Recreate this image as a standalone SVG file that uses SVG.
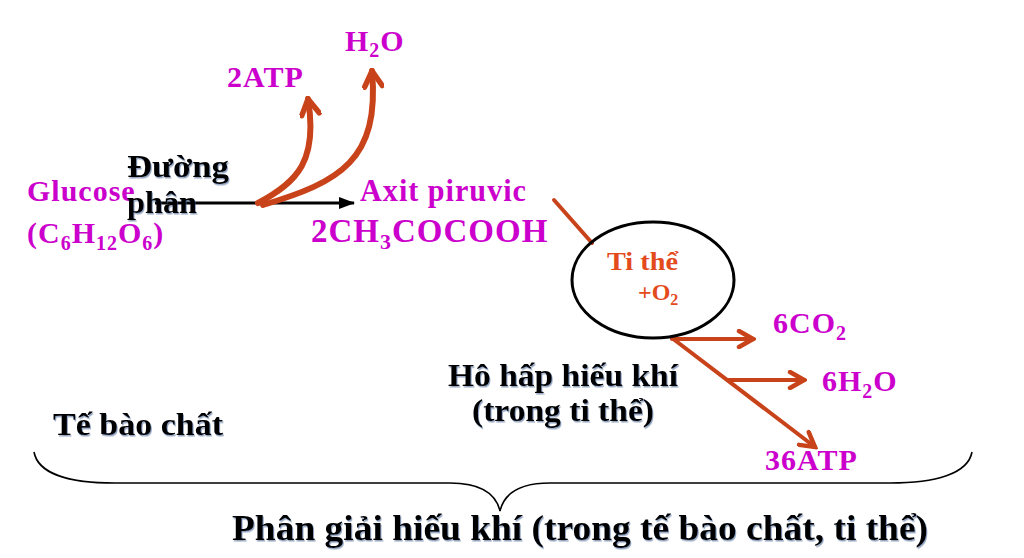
<svg xmlns="http://www.w3.org/2000/svg" width="1024" height="558" viewBox="0 0 1024 558">
<style>
  text { font-family: "Liberation Serif", "Times New Roman", "DejaVu Serif", serif; font-weight: bold; }
  .mag { fill: #CC00CC; font-size: 30px; letter-spacing: 1px; }
  .blk { fill: #000000; font-size: 30px; filter: url(#shadow); }
  .org { fill: #E34A1C; font-size: 24px; }
  .red { stroke: #C8421A; fill: none; stroke-linecap: round; }
</style>
<defs>
  <filter id="shadow" x="-10%" y="-20%" width="120%" height="150%">
    <feDropShadow dx="1" dy="1.5" stdDeviation="0.6" flood-color="#3a5a8a" flood-opacity="0.55"/>
  </filter>
  <marker id="chev" viewBox="0 0 20 20" markerWidth="20" markerHeight="20" markerUnits="userSpaceOnUse" refX="17" refY="10" orient="auto">
    <path d="M3,2 L17,10 L3,18" fill="none" stroke="#C8421A" stroke-width="4.5" stroke-linecap="round"/>
  </marker>
  <marker id="chevBig" viewBox="0 0 20 20" markerWidth="22" markerHeight="22" markerUnits="userSpaceOnUse" refX="17" refY="10" orient="auto">
    <path d="M3,2 L17,10 L3,18" fill="none" stroke="#C8421A" stroke-width="5" stroke-linecap="round"/>
  </marker>
  <marker id="tri" viewBox="0 0 16 12" markerWidth="16" markerHeight="12" markerUnits="userSpaceOnUse" refX="15" refY="6" orient="auto">
    <path d="M0,0 L16,6 L0,12 Z" fill="#000000"/>
  </marker>
</defs>
<rect width="1024" height="558" fill="#FFFFFF"/>

<g id="connectors">
  <line x1="155" y1="203" x2="354" y2="203" stroke="#000000" stroke-width="3" marker-end="url(#tri)"/>
  <path class="red" d="M258,203 C298,182 318,160 308,99" stroke-width="6" marker-end="url(#chevBig)"/>
  <path class="red" d="M263,205 C340,182 380,160 372,71" stroke-width="6" marker-end="url(#chevBig)"/>
  <line class="red" x1="554" y1="200" x2="592" y2="243" stroke-width="4"/>
  <line class="red" x1="672" y1="338" x2="815" y2="447" stroke-width="4" marker-end="url(#chev)"/>
  <line class="red" x1="672" y1="339" x2="753" y2="339" stroke-width="4" marker-end="url(#chev)"/>
  <line class="red" x1="728" y1="380" x2="804" y2="380" stroke-width="4" marker-end="url(#chev)"/>
  <path id="brace" d="M34,452 C38,474 70,483 115,483 L450,483 C482,483 496,494 500,511 C504,494 518,483 550,483 L890,483 C935,483 968,474 972,452" fill="none" stroke="#000000" stroke-width="1.6"/>
</g>

<g id="glucose">
  <text class="mag" x="27" y="201">Glucose</text>
  <text class="mag" x="27" y="243">(C<tspan font-size="20" dy="7">6</tspan><tspan dy="-7">H</tspan><tspan font-size="20" dy="7">12</tspan><tspan dy="-7">O</tspan><tspan font-size="20" dy="7">6</tspan><tspan dy="-7">)</tspan></text>
</g>

<g id="duong-phan">
  <text class="blk" x="127" y="177" style="font-size:31px" textLength="102" lengthAdjust="spacingAndGlyphs">Đường</text>
  <text class="blk" x="127" y="213" style="font-size:31px" textLength="70" lengthAdjust="spacingAndGlyphs">phân</text>
</g>

<g id="atp2">
  <text class="mag" x="227" y="87">2ATP</text>
</g>

<g id="h2o">
  <text class="mag" x="345" y="51">H<tspan font-size="20" dy="6">2</tspan><tspan dy="-6">O</tspan></text>
</g>

<g id="axit-piruvic">
  <text class="mag" x="360" y="201" style="font-size:31px" textLength="167" lengthAdjust="spacingAndGlyphs">Axit piruvic</text>
  <text class="mag" x="311" y="242" style="font-size:33px;letter-spacing:1px">2CH<tspan font-size="22" dy="7">3</tspan><tspan dy="-7">COCOOH</tspan></text>
</g>

<g id="ti-the">
  <ellipse cx="653" cy="280" rx="81" ry="58" fill="none" stroke="#000000" stroke-width="3"/>
  <text class="org" x="607" y="270" style="font-size:25px" textLength="71" lengthAdjust="spacingAndGlyphs">Ti thể</text>
  <text class="org" x="638" y="300">+O<tspan font-size="16" dy="5">2</tspan></text>
</g>

<g id="co2">
  <text class="mag" x="773" y="333">6CO<tspan font-size="20" dy="7">2</tspan></text>
</g>

<g id="h2o6">
  <text class="mag" x="822" y="391">6H<tspan font-size="20" dy="7">2</tspan><tspan dy="-7">O</tspan></text>
</g>

<g id="atp36">
  <text class="mag" x="765" y="470">36ATP</text>
</g>

<g id="ho-hap">
  <text class="blk" x="448" y="386" style="font-size:32px" textLength="230" lengthAdjust="spacingAndGlyphs">Hô hấp hiếu khí</text>
  <text class="blk" x="472" y="421" style="font-size:32px" textLength="182" lengthAdjust="spacingAndGlyphs">(trong ti thể)</text>
</g>

<g id="te-bao-chat">
  <text class="blk" x="53" y="435" style="font-size:32px" textLength="170" lengthAdjust="spacingAndGlyphs">Tế bào chất</text>
</g>

<g id="phan-giai">
  <text class="blk" x="232" y="540" style="font-size:36px" textLength="696" lengthAdjust="spacingAndGlyphs">Phân giải hiếu khí (trong tế bào chất, ti thể)</text>
</g>
</svg>
